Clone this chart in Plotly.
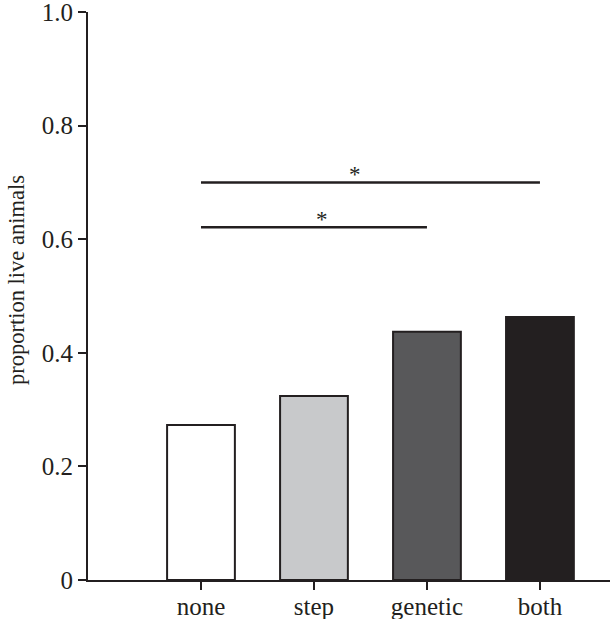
import plotly.graph_objects as go

categories = ["none", "step", "genetic", "both"]
proportions = [0.273, 0.324, 0.437, 0.463]
bar_colors = ["#ffffff", "#c8c9cb", "#58585a", "#231f20"]

# significance brackets: (start category index, end category index, height, star x position)
sig_starts = [0, 0]
sig_ends = [3, 2]
sig_heights = [0.70, 0.621]
star_x = [1.36, 1.07]

y_tickvals = [0, 0.2, 0.4, 0.6, 0.8, 1.0]
y_ticktext = ["0", "0.2", "0.4", "0.6", "0.8", "1.0"]

ink = "#231f20"
font_family = "Liberation Serif, Times New Roman, serif"

fig = go.Figure()
fig.add_trace(go.Bar(
    x=list(range(len(categories))),
    y=proportions,
    width=0.6,
    marker=dict(color=bar_colors, line=dict(color=ink, width=2)),
    showlegend=False,
    hoverinfo="skip",
))

for s, e, h, sx in zip(sig_starts, sig_ends, sig_heights, star_x):
    fig.add_shape(type="line", xref="x", yref="y", x0=s, x1=e, y0=h, y1=h,
                  line=dict(color=ink, width=2.5))
    fig.add_annotation(x=sx, y=h, xref="x", yref="y", text="*", showarrow=False,
                       yanchor="bottom", yshift=-7,
                       font=dict(family=font_family, size=23, color=ink))

fig.add_annotation(xref="paper", yref="paper", x=(16 - 88) / 522, y=(580 - 280) / 568,
                   text="proportion live animals", textangle=-90, showarrow=False,
                   xanchor="center", yanchor="middle",
                   font=dict(family=font_family, size=22.5, color=ink))

fig.update_layout(
    template="none",
    width=610, height=619,
    margin=dict(l=88, r=0, t=12, b=39, autoexpand=False),
    plot_bgcolor="white", paper_bgcolor="white",
    font=dict(family=font_family, size=24, color=ink),
    bargap=0.4,
)
fig.update_xaxes(
    range=[-1, 3.62], tickvals=list(range(len(categories))), ticktext=categories,
    showline=True, linecolor=ink, linewidth=2, ticks="outside", ticklen=8,
    tickwidth=2, tickcolor=ink, showgrid=False, zeroline=False, automargin=False,
    ticklabelstandoff=-5, ticklabeloverflow="allow",
    tickfont=dict(family=font_family, size=25, color=ink),
)
fig.update_yaxes(
    range=[0, 1.0], tickvals=y_tickvals, ticktext=y_ticktext,
    showline=True, linecolor=ink, linewidth=2, ticks="outside", ticklen=8,
    tickwidth=2, tickcolor=ink, showgrid=False, zeroline=False, automargin=False,
    ticklabeloverflow="allow",
    tickfont=dict(family=font_family, size=25, color=ink),
)

fig.write_html("out.html", config={"displayModeBar": False},
               post_script="document.body.style.margin='0';document.body.style.overflow='hidden';")
